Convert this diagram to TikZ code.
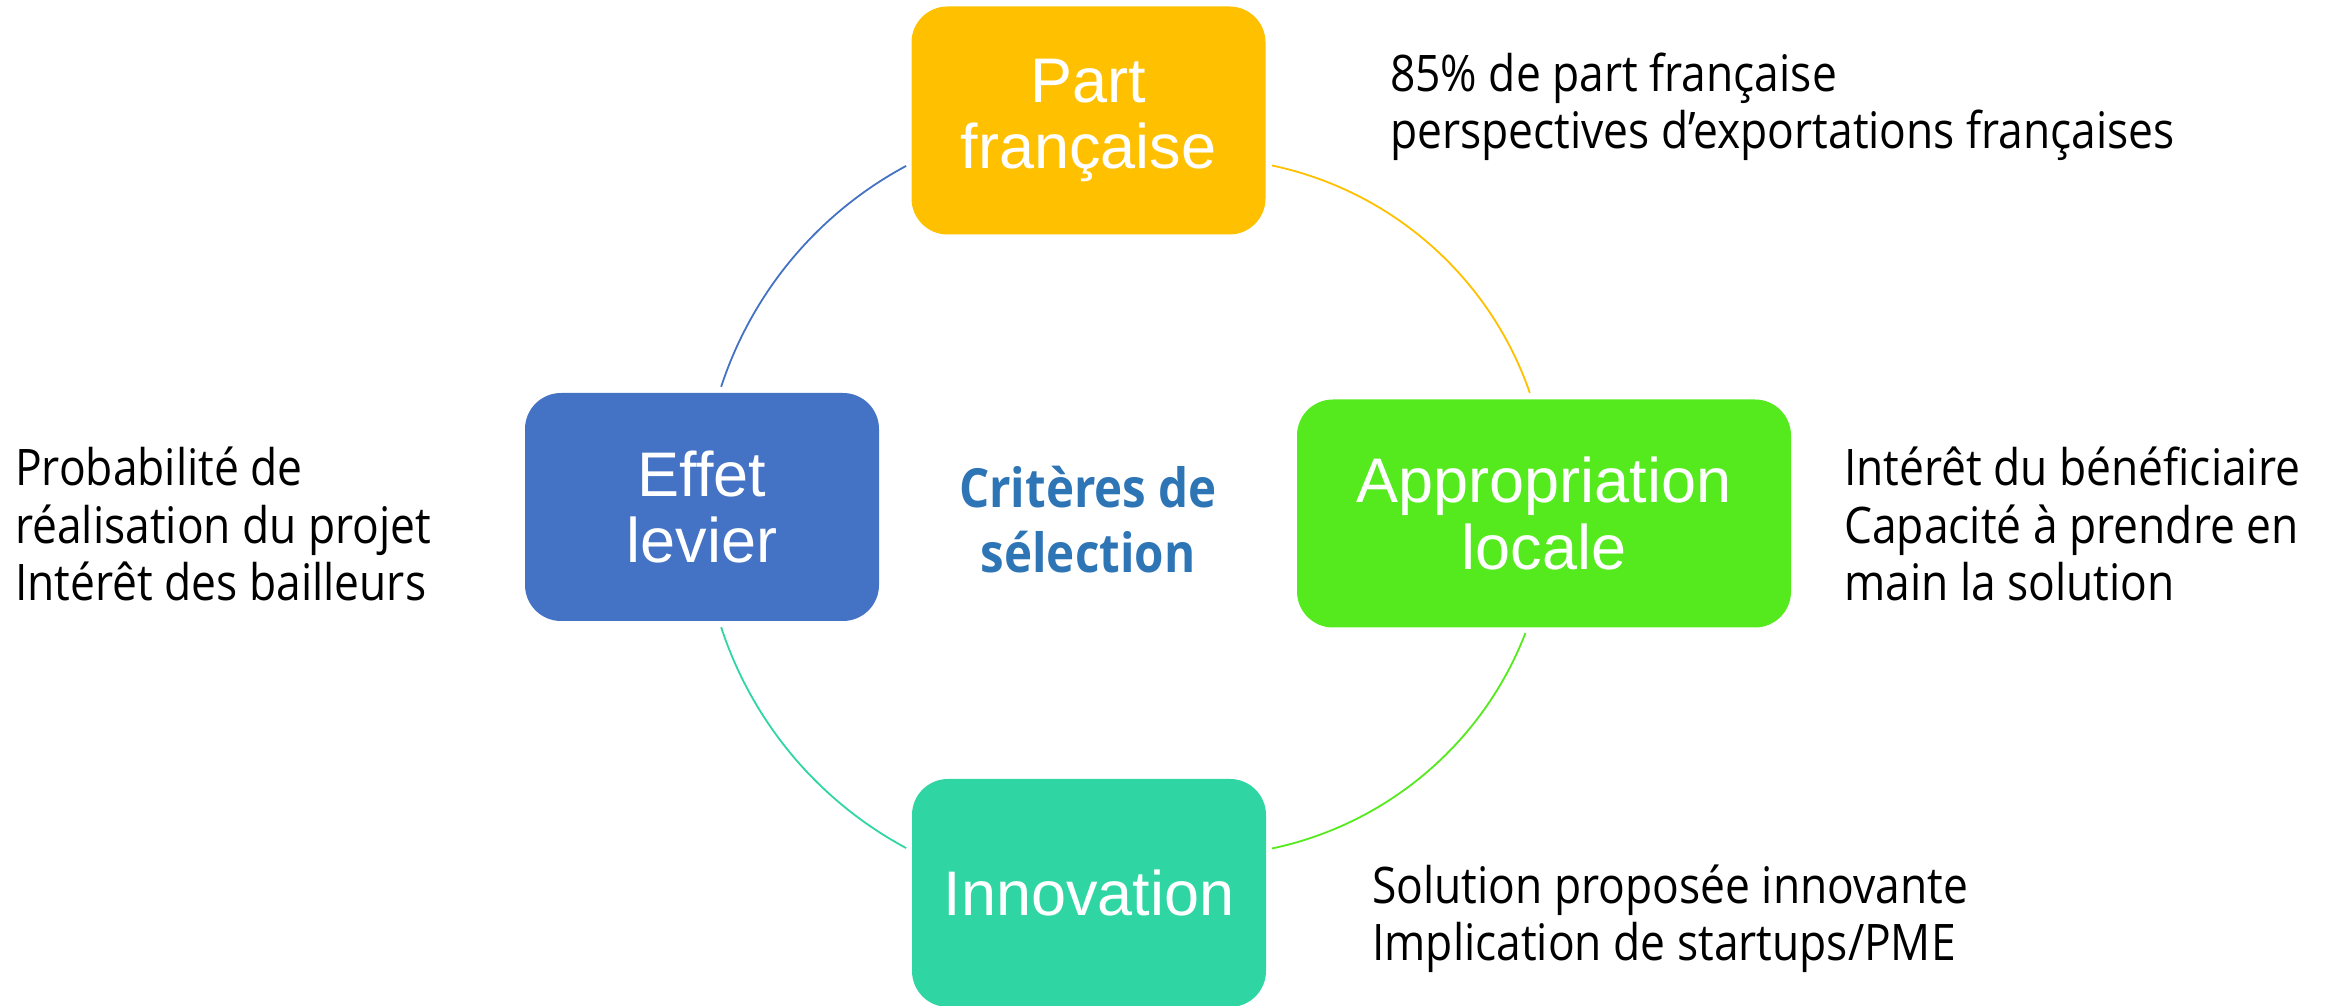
\documentclass[tikz,border=0pt]{standalone}
\usepackage{fontspec}
\usepackage{xcolor}
\usepackage{tikz}
\newfontfamily\boxfont{Liberation Sans}
\newfontfamily\notefont{Open Sans}[FakeStretch=0.88]

\definecolor{partcol}{HTML}{FFC000}
\definecolor{effetcol}{HTML}{4472C4}
\definecolor{approcol}{HTML}{55EA1D}
\definecolor{innovcol}{HTML}{2FD6A3}
\definecolor{titlecol}{HTML}{2E75B6}

\begin{document}
\begin{tikzpicture}[x=1pt, y=1pt,
    critbox/.style={rounded corners=36pt, inner sep=0pt, text=white, align=center,
        minimum width=354pt, minimum height=228pt,
        font=\boxfont\fontsize{63}{66.5}\selectfont},
    note/.style={anchor=base west, inner sep=0pt, align=left,
        font=\notefont\fontsize{50.4}{57.5}\selectfont},
    ring/.style={line width=1.8pt}]
        \useasboundingbox (0,0) rectangle (2335,1006);

        % Boxes
        \node [critbox, fill=partcol] (part) at (1088.5,885.5) {Part\\fran\c{c}aise};
        \node [critbox, fill=effetcol] (effet) at (702,499) {Effet\\levier};
        \node [critbox, fill=approcol, minimum width=494pt] (appro) at (1544,492.5) {Appropriation\\locale};
        \node [critbox, fill=innovcol] (innov) at (1089,113) {Innovation};

        % Centre
        \node [anchor=base, inner sep=0pt, align=center, text=titlecol,
            font=\notefont\bfseries\fontsize{54}{65}\selectfont] (titre) at (1088,433) {Crit\`eres de\\s\'election};

        % Notes (anchored on the last line)
        \node [note] (partnote) at (1390,857) {85\% de part fran\c{c}aise\\perspectives d’exportations fran\c{c}aises};
        \node [note] (effetnote) at (15,405) {Probabilit\'e de\\r\'ealisation du projet\\Int\'er\^et des bailleurs};
        \node [note] (appronote) at (1844,405) {Int\'er\^et du b\'en\'eficiaire\\Capacit\'e \`a prendre en\\main la solution};
        \node [note] (innovnote) at (1372,45) {Solution propos\'ee innovante\\Implication de startups/PME};

        % Ring
        \coordinate (cl) at (1089,499);
        \coordinate (cr) at (1200,499);
        \draw [ring, effetcol] ([shift={(118.2:387)}]cl) arc [start angle=118.2, end angle=161.9, radius=387];
        \draw [ring, innovcol] ([shift={(198.1:387)}]cl) arc [start angle=198.1, end angle=241.8, radius=387];
        \draw [ring, partcol] ([shift={(78.1:349)}]cr) arc [start angle=78.1, end angle=19.1, radius=349];
        \draw [ring, approcol] ([shift={(-21.2:349)}]cr) arc [start angle=-21.2, end angle=-78.1, radius=349];
    \end{tikzpicture}
\end{document}
